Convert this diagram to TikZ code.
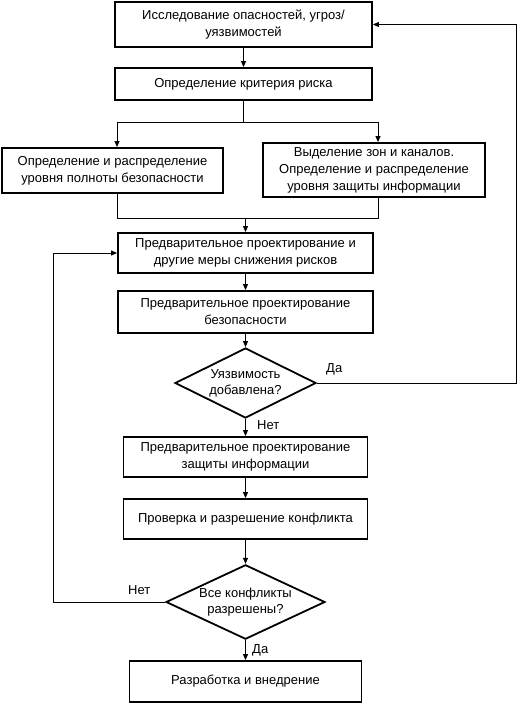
\documentclass[tikz,border=0pt]{standalone}
\usepackage{fontspec}
\setmainfont{Liberation Sans}
\usetikzlibrary{arrows.meta,shapes.geometric}
\tikzset{
  box/.style={draw,line width=1.8pt,align=center,inner sep=1pt,font=\fontsize{13}{17}\selectfont},
  dec/.style={draw,diamond,line width=1.8pt,align=center,inner sep=0pt,aspect=2,font=\fontsize{13}{16}\selectfont},
  conn/.style={line width=1pt},
  arr/.style={conn,-{Triangle[length=6pt,width=5pt]}},
  lbl/.style={font=\fontsize{13}{14}\selectfont,inner sep=0pt}
}
\begin{document}
\begin{tikzpicture}[x=1pt,y=-1pt]
\useasboundingbox (0,0) rectangle (520,705);
\node[box,minimum width=257pt,minimum height=45pt] (b1) at (243.5,24.5) {Исследование опасностей, угроз/\\уязвимостей};
\node[box,minimum width=257pt,minimum height=32pt] (b2) at (243.5,84) {Определение критерия риска};
\node[box,minimum width=221pt,minimum height=45pt] (L) at (112.5,170.5) {Определение и распределение\\уровня полноты безопасности};
\node[box,minimum width=222pt,minimum height=54pt] (R) at (374,170) {Выделение зон и каналов.\\Определение и распределение\\уровня защиты информации};
\node[box,minimum width=255pt,minimum height=40pt] (b3) at (245.5,253) {Предварительное проектирование и\\другие меры снижения рисков};
\node[box,minimum width=255pt,minimum height=42pt] (b4) at (245.5,312) {Предварительное проектирование\\безопасности};
\node[dec,minimum width=141pt,minimum height=70pt] (d1) at (245.5,383) {Уязвимость\\добавлена?};
\node[box,minimum width=244pt,minimum height=40pt] (b5) at (245.5,457) {Предварительное проектирование\\защиты информации};
\node[box,minimum width=244pt,minimum height=40pt] (b6) at (245.5,519) {Проверка и разрешение конфликта};
\node[dec,minimum width=159pt,minimum height=72pt] (d2) at (245.5,602) {Все конфликты\\разрешены?};
\node[box,minimum width=232pt,minimum height=41pt] (b7) at (245.5,681.5) {Разработка и внедрение};
\coordinate (split) at (243.5,122);
\coordinate (join) at (245.5,218);
\coordinate (rr) at (516,383);
\coordinate (ll) at (53,602);
\draw[arr] (b1) -- (b2);
\draw[conn] (b2.south) -- (split);
\draw[arr] (split) -| ([xshift=4.5pt]L.north);
\draw[arr] (split) -| ([xshift=4pt]R.north);
\draw[conn] ([xshift=4.5pt]L.south) |- (join);
\draw[conn] ([xshift=4pt]R.south) |- (join);
\draw[arr] (join) -- (b3.north);
\draw[arr] (b3) -- (b4);
\draw[arr] (b4) -- (d1);
\draw[arr] (d1) -- (b5);
\draw[arr] (b5) -- (b6);
\draw[arr] (b6) -- (d2);
\draw[arr] (d2) -- (b7);
\draw[arr] (d1.east) -- (rr) |- (b1.east);
\draw[arr] (d2.west) -- (ll) |- (b3.west);
\node[lbl,anchor=west] (yes1) at (326,369) {Да};
\node[lbl,anchor=west] (no1) at (257,425) {Нет};
\node[lbl,anchor=west] (no2) at (128,590) {Нет};
\node[lbl,anchor=west] (yes2) at (252,650) {Да};
\end{tikzpicture}
\end{document}
